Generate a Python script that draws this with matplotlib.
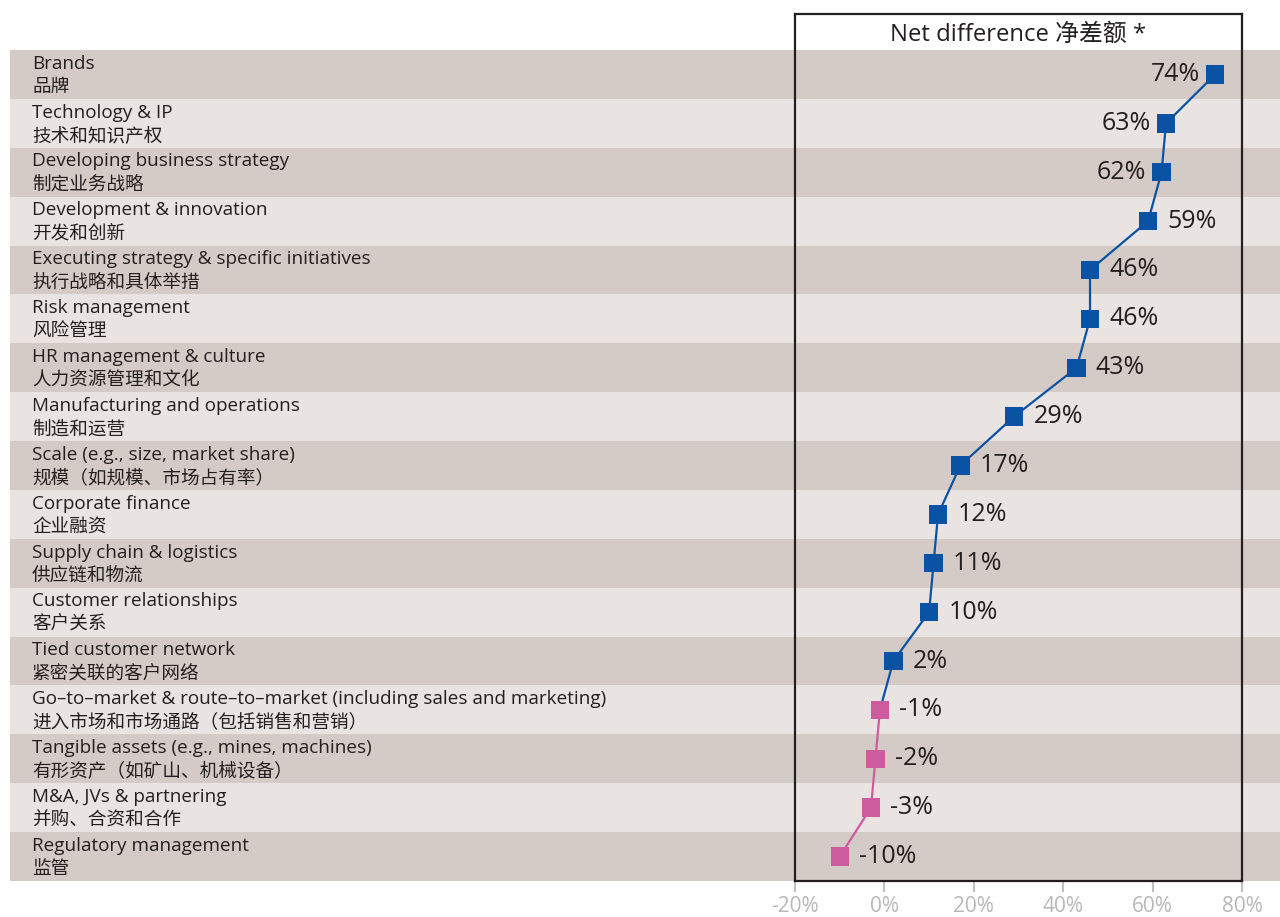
import numpy as np
import matplotlib.pyplot as plt

plt.rcParams['font.family'] = ['Open Sans', 'Noto Sans CJK SC', 'DejaVu Sans']

# data
labels_en = ["Brands", "Technology & IP", "Developing business strategy",
             "Development & innovation", "Executing strategy & specific initiatives",
             "Risk management", "HR management & culture",
             "Manufacturing and operations", "Scale (e.g., size, market share)",
             "Corporate finance", "Supply chain & logistics",
             "Customer relationships", "Tied customer network",
             "Go\u2013to\u2013market & route\u2013to\u2013market (including sales and marketing)",
             "Tangible assets (e.g., mines, machines)",
             "M&A, JVs & partnering", "Regulatory management"]
labels_cn = ["品牌", "技术和知识产权", "制定业务战略", "开发和创新", "执行战略和具体举措",
             "风险管理", "人力资源管理和文化", "制造和运营", "规模（如规模、市场占有率）",
             "企业融资", "供应链和物流", "客户关系", "紧密关联的客户网络",
             "进入市场和市场通路（包括销售和营销）", "有形资产（如矿山、机械设备）",
             "并购、合资和合作", "监管"]
values = [74, 63, 62, 59, 46, 46, 43, 29, 17, 12, 11, 10, 2, -1, -2, -3, -10]
xticks = [-20, 0, 20, 40, 60, 80]

blue = '#0a52a3'
pink = '#cc5c9e'
dark_band = '#d4cbc6'
light_band = '#e9e4e1'
txt = '#231f20'

n = len(values)
y = np.arange(n)
W, H = 1280, 917
fig = plt.figure(figsize=(W / 100, H / 100), dpi=100)

top_px, bot_px = 14, 881
row_h = (881 - 50) / n
ylim_top = -0.5 - (50 - top_px) / row_h

# background bands with labels
bg = fig.add_axes([10 / W, 1 - bot_px / H, 1 - 10 / W, (bot_px - top_px) / H])
bg.set_xlim(0, 1)
bg.set_ylim(n - 0.5, ylim_top)
bg.axis('off')
for i in range(n):
    bg.barh(i, 1, left=0, height=1, color=dark_band if i % 2 == 0 else light_band)
    bg.text(22 / (W - 10), i - 0.22, labels_en[i], fontsize=13.6, color=txt, va='center')
    bg.text(22 / (W - 10), i + 0.26, labels_cn[i], fontsize=13.4,
            family=['Noto Sans CJK SC', 'DejaVu Sans'], color=txt, va='center')

# main plot
ax = fig.add_axes([795 / W, 1 - bot_px / H, (1242 - 795) / W, (bot_px - top_px) / H])
ax.patch.set_alpha(0)
ax.set_xlim(-20, 80)
ax.set_ylim(n - 0.5, ylim_top)

nb = 14
ax.plot(values[:nb], y[:nb], color=blue, lw=1.6, zorder=2)
ax.plot(values[nb - 1:], y[nb - 1:], color=pink, lw=1.6, zorder=2)
cols = [blue if v >= 0 else pink for v in values]
ax.scatter(values, y, marker='s', s=175, c=cols, zorder=3, linewidths=0)

for i, v in enumerate(values):
    if i < 3:
        ax.text(v - 3.4, y[i], f"{v}%", ha='right', va='center', fontsize=18, color=txt)
    else:
        ax.text(v + 4.3, y[i], f"{v}%", ha='left', va='center', fontsize=18, color=txt)

ax.text(30, (ylim_top - 0.5) / 2 + 0.05, "Net difference 净差额 *", ha='center',
        va='center', fontsize=17.2, color=txt)

ax.set_yticks([])
ax.set_xticks(xticks)
ax.set_xticklabels([f"{t}%" for t in xticks], fontsize=15, color='#b8b8b8')
ax.tick_params(axis='x', length=8, width=1.5, color='#c0c0c0', pad=3)
for s in ax.spines.values():
    s.set_color(txt)
    s.set_linewidth(1.6)

fig.savefig('out.png', dpi=100)
